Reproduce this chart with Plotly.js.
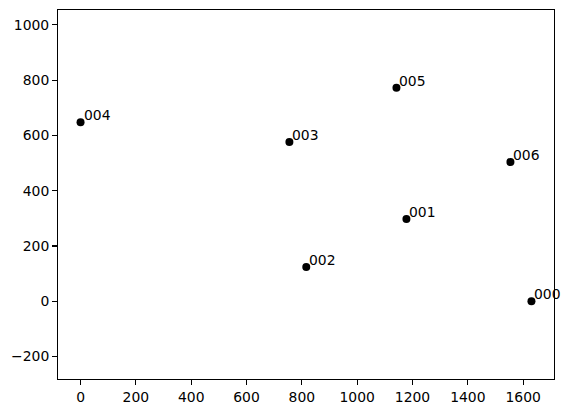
<!DOCTYPE html>
<html>
<head>
<meta charset="utf-8">
<script src="https://cdn.plot.ly/plotly-3.0.1.min.js"></script>
<style>html,body{margin:0;padding:0;background:#fff;}#chart{width:569px;height:413px;}</style>
</head>
<body>
<div id="chart"></div>
<script>
const labels = ["000", "001", "002", "003", "004", "005", "006"];
const xValues = [1630, 1178, 816, 755, 0, 1142, 1554];
const yValues = [0, 298, 124, 576, 648, 773, 504];

const FONT = "DejaVu Sans";
const FS = 13.9;

const trace = {
  type: "scatter",
  mode: "markers",
  x: xValues,
  y: yValues,
  marker: {color: "#000000", size: 8, line: {width: 0}},
  hoverinfo: "skip"
};

const annotations = labels.map((t, i) => ({
  x: xValues[i],
  y: yValues[i],
  xref: "x",
  yref: "y",
  text: t,
  showarrow: false,
  xanchor: "left",
  yanchor: "bottom",
  xshift: 1,
  yshift: -3,
  font: {family: FONT, size: FS, color: "#000000"}
}));

const axisCommon = {
  showgrid: false,
  zeroline: false,
  showline: true,
  mirror: true,
  linecolor: "#000000",
  linewidth: 1.1,
  ticks: "outside",
  ticklen: 4.9,
  tickwidth: 1.1,
  tickcolor: "#000000",
  tickfont: {family: FONT, size: FS, color: "#000000"}
};

const layout = {
  width: 569,
  height: 413,
  margin: {l: 58.3, r: 15, t: 10.3, b: 34},
  paper_bgcolor: "#ffffff",
  plot_bgcolor: "#ffffff",
  showlegend: false,
  xaxis: Object.assign({}, axisCommon, {range: [-81.5, 1711.5], tickmode: "linear", tick0: 0, dtick: 200}),
  yaxis: Object.assign({}, axisCommon, {range: [-281.5, 1054], tickmode: "linear", tick0: 0, dtick: 200}),
  annotations: annotations
};

Plotly.newPlot("chart", [trace], layout, {displayModeBar: false, staticPlot: true});
</script>
</body>
</html>
